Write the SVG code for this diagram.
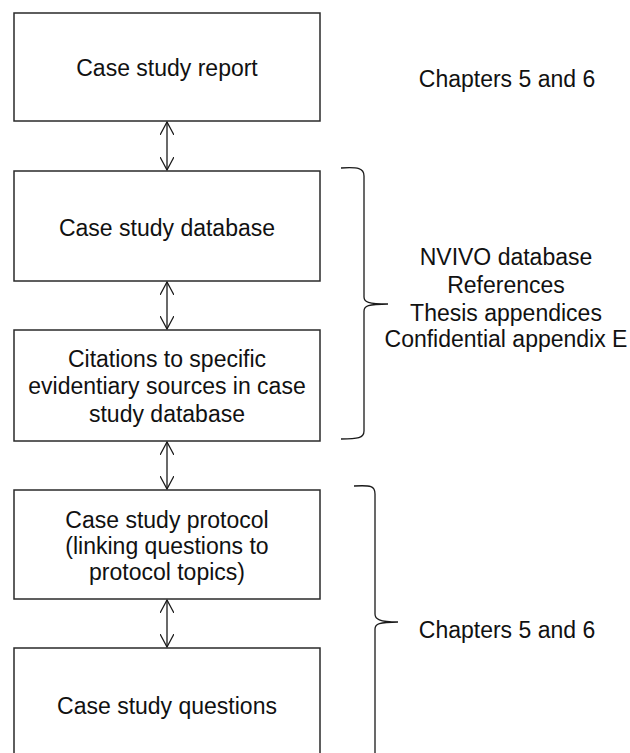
<svg xmlns="http://www.w3.org/2000/svg" width="630" height="753" viewBox="0 0 630 753">
  <defs>
    <style>
      .box { fill: #ffffff; stroke: #2a2a2a; stroke-width: 1.5; }
      .lbl { font-family: "Liberation Sans", Arial, sans-serif; font-size: 23px; fill: #111111; text-anchor: middle; }
      .link { fill: none; stroke: #1a1a1a; stroke-width: 1.3; }
      .brace { fill: none; stroke: #1a1a1a; stroke-width: 1.3; }
    </style>
    <marker id="head" viewBox="0 0 14 14" refX="13" refY="7" markerWidth="14" markerHeight="14" markerUnits="userSpaceOnUse" orient="auto-start-reverse">
      <path d="M0,0 L13,7 L0,14" fill="none" stroke="#1a1a1a" stroke-width="1.3"/>
    </marker>
  </defs>

  <rect width="630" height="753" fill="#ffffff"/>

  <!-- connectors -->
  <g id="connectors">
    <line class="link" x1="167" y1="122" x2="167" y2="170" marker-start="url(#head)" marker-end="url(#head)"/>
    <line class="link" x1="167" y1="282" x2="167" y2="329" marker-start="url(#head)" marker-end="url(#head)"/>
    <line class="link" x1="167" y1="442" x2="167" y2="489" marker-start="url(#head)" marker-end="url(#head)"/>
    <line class="link" x1="167" y1="600" x2="167" y2="647" marker-start="url(#head)" marker-end="url(#head)"/>
  </g>

  <!-- nodes -->
  <g id="report">
    <rect class="box" x="14" y="13" width="306" height="108"/>
    <text class="lbl" x="167" y="76">Case study report</text>
  </g>

  <g id="database">
    <rect class="box" x="14" y="171" width="306" height="110"/>
    <text class="lbl" x="167" y="236">Case study database</text>
  </g>

  <g id="citations">
    <rect class="box" x="14" y="330" width="306" height="111"/>
    <text class="lbl" x="167" y="367">Citations to specific</text>
    <text class="lbl" x="167" y="394">evidentiary sources in case</text>
    <text class="lbl" x="167" y="421.5">study database</text>
  </g>

  <g id="protocol">
    <rect class="box" x="14" y="490" width="306" height="109"/>
    <text class="lbl" x="167" y="528">Case study protocol</text>
    <text class="lbl" x="167" y="554">(linking questions to</text>
    <text class="lbl" x="167" y="580">protocol topics)</text>
  </g>

  <g id="questions">
    <rect class="box" x="14" y="648" width="306" height="120"/>
    <text class="lbl" x="167" y="714">Case study questions</text>
  </g>

  <!-- side annotations -->
  <g id="note-report">
    <text class="lbl" x="507" y="86.5">Chapters 5 and 6</text>
  </g>

  <g id="note-evidence">
    <path class="brace" d="M341,168 C358,167 364,168 364,176 V297 C364,302 368,304 388,304 M388,304 C368,304 364,306 364,311 V431 C364,438 358,439 341,439"/>
    <text class="lbl" x="506" y="265">NVIVO database</text>
    <text class="lbl" x="506" y="293">References</text>
    <text class="lbl" x="506" y="320.5">Thesis appendices</text>
    <text class="lbl" x="506" y="347">Confidential appendix E</text>
  </g>

  <g id="note-design">
    <path class="brace" d="M354,486 C371,485 375,486 375,494 V614 C375,619 379,622 398,622 M398,622 C379,622 375,624 375,629 V770"/>
    <text class="lbl" x="507" y="637.5">Chapters 5 and 6</text>
  </g>
</svg>
